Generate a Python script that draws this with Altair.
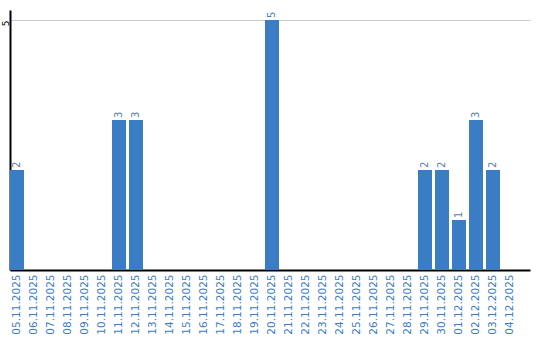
import altair as alt
import pandas as pd

dates = ["05.11.2025", "06.11.2025", "07.11.2025", "08.11.2025", "09.11.2025",
         "10.11.2025", "11.11.2025", "12.11.2025", "13.11.2025", "14.11.2025",
         "15.11.2025", "16.11.2025", "17.11.2025", "18.11.2025", "19.11.2025",
         "20.11.2025", "21.11.2025", "22.11.2025", "23.11.2025", "24.11.2025",
         "25.11.2025", "26.11.2025", "27.11.2025", "28.11.2025", "29.11.2025",
         "30.11.2025", "01.12.2025", "02.12.2025", "03.12.2025", "04.12.2025"]
counts = [2, 0, 0, 0, 0, 0, 3, 3, 0, 0, 0, 0, 0, 0, 0,
          5, 0, 0, 0, 0, 0, 0, 0, 0, 2, 2, 1, 3, 2, 0]

df = pd.DataFrame({"date": dates, "count": counts})
labels_df = df[df["count"] > 0]

xscale = alt.Scale(paddingInner=0.1765, paddingOuter=0.382, align=0)
x = alt.X("date:N", sort=dates, title=None, scale=xscale,
          axis=alt.Axis(labelAngle=-90, labelColor="#3b7dc4", labelFont="DejaVu Sans",
                        labelFontSize=10.5, ticks=False, domainColor="#000000",
                        domainWidth=2, labelPadding=4, labelBaseline="middle",
                        labelAlign="right"))
y = alt.Y("count:Q", title=None, scale=alt.Scale(domain=[0, 5.2], nice=False),
          axis=alt.Axis(values=[5], labelAngle=-90, ticks=False, domainColor="#000000",
                        domainWidth=2, gridColor="#cccccc", labelFont="DejaVu Sans",
                        labelFontSize=9, labelColor="#000000", labelPadding=2,
                        labelAlign="right", labelBaseline="alphabetic"))

bars = alt.Chart(df).mark_bar(color="#3b7dc4").encode(x=x, y=y)
text = alt.Chart(labels_df).mark_text(angle=270, align="left", baseline="middle", dx=2,
                                      font="DejaVu Sans", fontSize=10, color="#5a7ea6").encode(
    x=alt.X("date:N", sort=dates, scale=xscale), y="count:Q", text="count:Q")

chart = (bars + text).properties(
    width=520, height=260,
    autosize=alt.AutoSizeParams(type="none"),
    padding={"left": 10, "top": 10, "right": 10, "bottom": 70},
).configure_view(stroke=None).configure_axis(grid=False).configure_axisY(grid=True)

chart.save("out.html", embed_options={"renderer": "svg", "actions": False})
